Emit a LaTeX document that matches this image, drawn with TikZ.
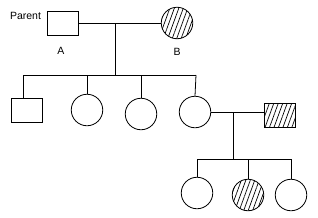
\documentclass[tikz,border=0pt]{standalone}
\usepackage{fontspec}
\setmainfont{Liberation Sans}
\usetikzlibrary{positioning, patterns.meta}
\begin{document}
\begin{tikzpicture}[x=1pt, y=-1pt, font=\fontsize{10.5}{12}\selectfont,
        male/.style={rectangle, draw, minimum width=31pt, minimum height=24pt, inner sep=0pt},
        female/.style={circle, draw, minimum size=31.5pt, inner sep=0pt},
        affected/.style={pattern={Lines[angle=70, distance=4.2pt, line width=0.7pt]}},
        every path/.style={line width=0.8pt}
    ]
    \useasboundingbox (0,0) rectangle (318,217);

    % Parents
    \node[male] (A) at (63,23) {};
    \node[female, affected] (B) at (177,23) {};
    \node (parent) at (25.5,16) {Parent};
    \node (labA) at (61,51) {A};
    \node (labB) at (177,52) {B};

    % Children
    \node[male] (C1) at (27,110) {};
    \node[female] (C2) at (87,110) {};
    \node[female] (C3) at (141,114) {};
    \node[female] (C4) at (195,112) {};
    \node[male, affected] (S) at (280,115) {};

    % Grandchildren
    \node[female] (G1) at (197,193) {};
    \node[female, affected] (G2) at (248,195) {};
    \node[female] (G3) at (291,195) {};

    % Joints
    \coordinate (m1) at (115,23);
    \coordinate (s1) at (115,75);
    \coordinate (d1) at (23,75);
    \coordinate (d4) at (196,75);
    \coordinate (m2) at (233,112);
    \coordinate (s2) at (233,159);

    % Lines
    \draw (A) -- (B);
    \draw (m1) -- (s1);
    \draw (d1) -- (d4);
    \draw (d1) -- (d1 |- C1.north);
    \draw (C2.north |- d1) -- (C2.north);
    \draw (C3.north |- d1) -- (C3.north);
    \draw (d4) -- (C4.north);
    \draw (C4.east) -- (C4.east -| S.west);
    \draw (m2) -- (s2);
    \draw (G1.north |- s2) -- (G3.north |- s2);
    \draw (G1.north |- s2) -- (G1.north);
    \draw (G2.north |- s2) -- (G2.north);
    \draw (G3.north |- s2) -- (G3.north);
\end{tikzpicture}
\end{document}
